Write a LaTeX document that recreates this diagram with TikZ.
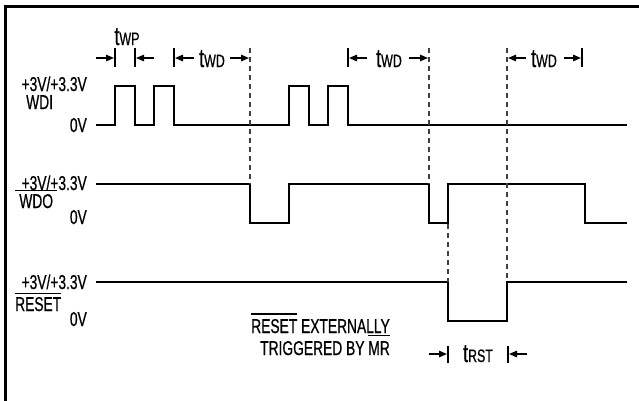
\documentclass[tikz,border=0pt]{standalone}
\usepackage{fontspec}
\setmainfont{Liberation Sans}[FakeStretch=0.69,FakeBold=0.6]
\usetikzlibrary{arrows.meta}
\newcommand{\tsub}[1]{{\fontsize{26}{26}\selectfont t}{\fontsize{18}{18}\selectfont #1}}
\newcommand{\barred}[2]{\vbox{\hrule height 1.2pt\kern#1\hbox{#2}}}
\tikzset{
    wave/.style={line width=2pt},
    frame/.style={line width=3pt},
    guide/.style={line width=1.2pt,dash pattern=on 5pt off 4pt,draw=black!75},
    bound/.style={line width=1.4pt},
    dimarrow/.style={line width=1.4pt,-{Triangle[length=8pt,width=6.5pt]}},
    lbl/.style={inner sep=0pt,font=\fontsize{20}{22}\selectfont},
}

\begin{document}
\begin{tikzpicture}[x=1pt,y=-1pt]
    \clip (0,0) rectangle (639,400);
    \draw[frame] (5.5,420) |- (660,6.5);

    % signal names
    \node[lbl,anchor=base east] (wdihi) at (87,91) {+3V/+3.3V};
    \node[lbl,anchor=base west] (wdiname) at (26,109) {WDI};
    \node[lbl,anchor=base east] (wdilo) at (87,132) {0V};
    \node[lbl,anchor=base east] (wdohi) at (87,190) {+3V/+3.3V};
    \node[lbl,anchor=base west] (wdoname) at (15,208) {\barred{3pt}{\hbox to 42pt{\hss WDO\hss}}};
    \node[lbl,anchor=base east] (wdolo) at (87,224) {0V};
    \node[lbl,anchor=base east] (rsthi) at (87,289) {+3V/+3.3V};
    \node[lbl,anchor=base west] (rstname) at (15,311) {\barred{3pt}{RESET}};
    \node[lbl,anchor=base east] (rstlo) at (87,326) {0V};

    % waveforms
    \draw[wave] (96,125) -| (115,86) -| (135,125) -| (154,86) -| (174,125)
        -| (289,86) -| (309,125) -| (328,86) -| (348,125) -- (627,125);
    \draw[wave] (96,184) -| (250,223) -| (289,184) -| (429,223) -| (448,184)
        -| (585,223) -- (627,223);
    \draw[wave] (96,282) -| (448,321) -| (507,282) -- (627,282);

    % timing marks
    \draw[guide] (250,48) -- (250,184);
    \draw[guide] (429,48) -- (429,184);
    \draw[guide] (448,224) -- (448,282);
    \draw[guide] (507,48) -- (507,282);
    \foreach \x in {115,135,174,348,582}
        \draw[bound] (\x,48) -- (\x,67);
    \foreach \x in {448,508}
        \draw[bound] (\x,346) -- (\x,363);

    \node[lbl,anchor=base] (twp) at (127,45) {\tsub{WP}};
    \draw[dimarrow] (96,58) -- (114,58);
    \draw[dimarrow] (154,58) -- (136,58);

    \node[lbl,anchor=base] (twd1) at (212,67) {\tsub{WD}};
    \draw[dimarrow] (194,58) -- (175,58);
    \draw[dimarrow] (230,58) -- (249,58);

    \node[lbl,anchor=base] (twd2) at (389,67) {\tsub{WD}};
    \draw[dimarrow] (367,58) -- (349,58);
    \draw[dimarrow] (409,58) -- (428,58);

    \node[lbl,anchor=base] (twd3) at (544,67) {\tsub{WD}};
    \draw[dimarrow] (526,58) -- (508,58);
    \draw[dimarrow] (564,58) -- (581,58);

    \node[lbl,anchor=base] (trst) at (478,362) {\tsub{RST}};
    \draw[dimarrow] (429,354) -- (447,354);
    \draw[dimarrow] (527,354) -- (509,354);

    \node[lbl,anchor=base east,align=right] (note) at (390,355)
        {\barred{4.5pt}{RESET} EXTERNALLY\\TRIGGERED BY \barred{5pt}{MR}};
\end{tikzpicture}
\end{document}
